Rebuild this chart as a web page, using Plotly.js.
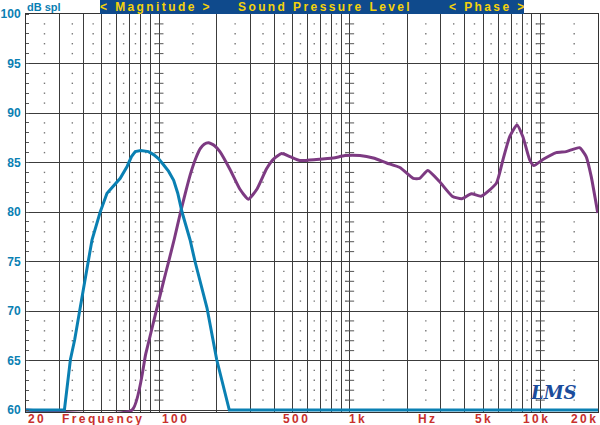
<!DOCTYPE html>
<html>
<head>
<meta charset="utf-8">
<script src="https://cdn.plot.ly/plotly-3.0.1.min.js"></script>
<style>
html,body{margin:0;padding:0;background:#fff;}
#chart{width:600px;height:425px;}
</style>
</head>
<body>
<div id="chart"></div>
<script>
// ---- data ----
const blueFreq = [20, 31.8, 34.2, 36, 40, 44.4, 49, 53.2, 62.4, 67.8, 71.5, 74.8, 80, 87.8, 93.4, 99, 105, 112, 119, 125, 131.6, 145, 154, 178, 200, 233, 20000];
const blueDb   = [60, 60, 65.1, 67.1, 72.2, 77.2, 80, 81.9, 83.4, 84.6, 85.6, 86.1, 86.2, 86.1, 85.8, 85.4, 84.8, 84.1, 83.2, 81.9, 80, 77.2, 75, 70.3, 65.1, 60, 60];

const purpleFreq = [20, 72, 85, 95, 105, 112, 120, 129, 137, 145, 156, 164, 172, 181, 195, 208, 235, 265, 293, 325, 366, 400, 438, 484, 546, 667, 818, 942, 1128, 1326, 1558, 1828, 2150, 2322, 2560, 2940, 3436, 3860, 4336, 4874, 5860, 6350, 6880, 7516, 8075, 8754, 9220, 10280, 12080, 13620, 16000, 17340, 18420, 19940];
const purpleDb   = [60, 60, 65.7, 69.5, 72.9, 75.0, 77.3, 79.9, 81.9, 83.7, 85.5, 86.4, 86.85, 87.0, 86.7, 86.1, 84.3, 82.3, 81.3, 82.3, 84.4, 85.4, 85.9, 85.6, 85.2, 85.3, 85.45, 85.7, 85.7, 85.45, 84.95, 84.5, 83.4, 83.4, 84.2, 83.1, 81.6, 81.35, 81.85, 81.6, 82.9, 85.3, 87.6, 88.8, 87.6, 85.3, 84.7, 85.3, 86.0, 86.1, 86.5, 85.6, 83.6, 79.9];

const yTickVals = [60, 65, 70, 75, 80, 85, 90, 95, 100];
const yTickText = ["60", "65", "70", "75", "80", "85", "90", "95", "100"];

const xLabels = ["20", "Frequency", "100", "500", "1k", "Hz", "5k", "10k", "20k"];
const xLabelPx = [26, 101.7, 174, 295, 357, 426.7, 483, 535.5, 598];

const headerTexts = ["< Magnitude >", "Sound Pressure Level", "< Phase >"];
const headerPx = [155, 324, 486];

// ---- grid helpers (decoration) ----
const gridFreqs = [];
const minorFreqs = [];
const decadeFreqs = [100, 1000, 10000];
[10, 100, 1000, 10000].forEach(d => {
  for (let m = 1; m <= 9; m++) {
    const f = m * d;
    if (f >= 20 && f <= 20000) gridFreqs.push(f);
    const h = (m + 0.5) * d;
    if (h > 20 && h < 20000) minorFreqs.push(h);
  }
});
const minorDb = [];
for (let v = 61; v < 100; v++) if (v % 5 !== 0) minorDb.push(v);

const dotX = [], dotY = [];
minorFreqs.forEach(f => minorDb.forEach(v => { dotX.push(f); dotY.push(v); }));
const tickX = [], tickY = [];
decadeFreqs.forEach(f => minorDb.forEach(v => { tickX.push(f); tickY.push(v); }));

const W = 600, H = 425, L = 26, R = 2, T = 14, B = 13;
const pw = W - L - R, ph = H - T - B;
const px2paper = p => (p - L) / pw;
const py2paper = p => (H - B - p) / ph;
const spaced = s => s.split("").join("\u2009");

const FONT = "Liberation Sans, Arial, Helvetica, sans-serif";
const BLUE = "#0a80b3";
const PURPLE = "#7d3a82";
const RED = "#c8302c";

const traces = [
  {x: dotX, y: dotY, mode: "markers", type: "scatter", marker: {symbol: "square", size: 1.4, color: "#777"}, hoverinfo: "skip", showlegend: false},
  {x: tickX, y: tickY, mode: "markers", type: "scatter", marker: {symbol: "line-ew", size: 6, line: {width: 1, color: "#555"}}, hoverinfo: "skip", showlegend: false},
  {x: purpleFreq, y: purpleDb, mode: "lines", type: "scatter", line: {color: PURPLE, width: 3, shape: "spline", smoothing: 0.5}, showlegend: false},
  {x: blueFreq, y: blueDb, mode: "lines", type: "scatter", line: {color: BLUE, width: 3, shape: "linear"}, showlegend: false}
];

const annotations = [];
xLabels.forEach((t, i) => {
  annotations.push({
    text: spaced(t), xref: "paper", yref: "paper",
    x: px2paper(xLabelPx[i]), y: py2paper(419),
    xanchor: i === 0 ? "left" : (i === xLabels.length - 1 ? "right" : "center"),
    yanchor: "middle", showarrow: false,
    font: {family: FONT, size: 12, color: RED, weight: "bold"}
  });
});
headerTexts.forEach((t, i) => {
  annotations.push({
    text: spaced(t), xref: "paper", yref: "paper",
    x: px2paper(headerPx[i]), y: py2paper(7),
    xanchor: "center", yanchor: "middle", showarrow: false,
    font: {family: FONT, size: 12, color: "#f5d20a", weight: "bold"}
  });
});
annotations.push({
  text: "dB spl", xref: "paper", yref: "paper", x: px2paper(25), y: py2paper(7),
  xanchor: "left", yanchor: "middle", showarrow: false,
  font: {family: FONT, size: 11, color: BLUE, weight: "bold"}
});
annotations.push({
  text: "<i>LMS</i>", xref: "paper", yref: "paper", x: px2paper(553), y: py2paper(392),
  xanchor: "center", yanchor: "middle", showarrow: false,
  font: {family: "DejaVu Serif, serif", size: 18, color: "#1b4c9c", weight: "bold"}
});

const layout = {
  width: W, height: H,
  margin: {l: L, r: R, t: T, b: B, pad: 0},
  paper_bgcolor: "#ffffff", plot_bgcolor: "#ffffff",
  showlegend: false,
  xaxis: {
    type: "log", range: [Math.log10(20), Math.log10(20000)],
    tickmode: "array", tickvals: gridFreqs, showticklabels: false, ticks: "",
    showgrid: true, gridcolor: "#3c3c3c", gridwidth: 1,
    showline: true, linecolor: "#333", linewidth: 1, mirror: true,
    zeroline: false, fixedrange: true
  },
  yaxis: {
    range: [59.8, 100],
    tickmode: "array", tickvals: yTickVals, ticktext: yTickText, ticks: "",
    ticklabelstandoff: 2,
    tickfont: {family: FONT, size: 12, color: BLUE, weight: "bold"},
    showgrid: true, gridcolor: "#3c3c3c", gridwidth: 1,
    showline: true, linecolor: "#333", linewidth: 1, mirror: true,
    minor: {dtick: 1, tick0: 60, ticks: "inside", ticklen: 3, tickcolor: "#555", showgrid: false},
    zeroline: false, fixedrange: true
  },
  shapes: [{
    type: "rect", xref: "paper", yref: "paper",
    x0: px2paper(100), x1: px2paper(524), y0: 1, y1: py2paper(0),
    fillcolor: "#0f4a8c", line: {width: 0}, layer: "above"
  }],
  annotations: annotations
};

Plotly.newPlot("chart", traces, layout, {displayModeBar: false, staticPlot: true});
</script>
</body>
</html>
